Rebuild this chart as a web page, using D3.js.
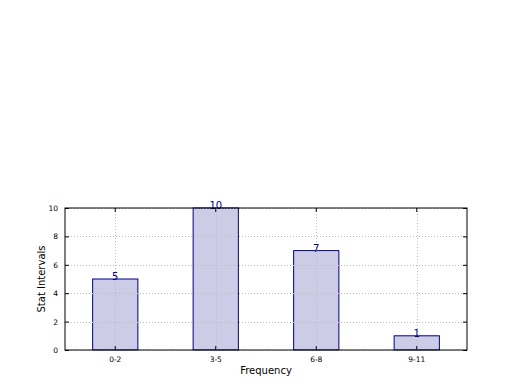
<!DOCTYPE html>
<html lang="en">
<head>
<meta charset="utf-8">
<script src="https://d3js.org/d3.v7.min.js"></script>
<style>
  body { margin: 0; background: #fff; }
  text { font-family: "DejaVu Sans", sans-serif; }
</style>
</head>
<body>
<script>
var categories = ["0-2", "3-5", "6-8", "9-11"];
var counts = [5, 10, 7, 1];
var yTicks = [0, 2, 4, 6, 8, 10];

var width = 520, height = 390;
var margin = {left: 65, right: 53, top: 208, bottom: 40};
var x0 = margin.left, x1 = width - margin.right;
var y0 = height - margin.bottom, y1 = margin.top;

var svg = d3.select("body").append("svg")
    .attr("width", width)
    .attr("height", height);

var x = d3.scaleBand()
    .domain(categories)
    .range([x0, x1])
    .paddingInner(0.55)
    .paddingOuter(0.275);
var y = d3.scaleLinear().domain([0, 10]).range([y0, y1]);

function cx(d) { return x(d) + x.bandwidth() / 2; }

// bars
svg.selectAll(".bar").data(categories).enter().append("rect")
    .attr("x", function(d) { return x(d); })
    .attr("y", function(d, i) { return y(counts[i]); })
    .attr("width", x.bandwidth())
    .attr("height", function(d, i) { return y0 - y(counts[i]); })
    .attr("fill", "#ccccE6")
    .attr("stroke", "#000080")
    .attr("stroke-width", 1);

// grid (drawn over the bars, as in the original)
var grid = svg.append("g").attr("stroke", "#bdbdbd").attr("stroke-dasharray", "1,2").attr("shape-rendering", "crispEdges");
grid.selectAll(".gx").data(categories).enter().append("line")
    .attr("x1", function(d) { return Math.round(cx(d)) + 0.5; })
    .attr("x2", function(d) { return Math.round(cx(d)) + 0.5; })
    .attr("y1", y0).attr("y2", y1);
grid.selectAll(".gy").data(yTicks).enter().append("line")
    .attr("x1", x0).attr("x2", x1)
    .attr("y1", function(d) { return Math.round(y(d)) + 0.5; })
    .attr("y2", function(d) { return Math.round(y(d)) + 0.5; });

// value labels
svg.selectAll(".val").data(categories).enter().append("text")
    .attr("x", cx)
    .attr("y", function(d, i) { return y(counts[i]) + 1; })
    .attr("text-anchor", "middle")
    .attr("font-size", 10)
    .attr("fill", "#000080")
    .text(function(d, i) { return counts[i]; });

// frame
svg.append("rect")
    .attr("x", x0).attr("y", y1)
    .attr("width", x1 - x0).attr("height", y0 - y1)
    .attr("fill", "none").attr("stroke", "#000").attr("stroke-width", 1);

// axes with inward ticks
var axB = d3.axisBottom(x).tickSize(-4).tickPadding(7);
svg.append("g").attr("transform", "translate(0," + y0 + ")").call(axB)
    .call(function(g) { g.select(".domain").remove(); g.selectAll("text").attr("font-size", 7.5).attr("fill", "#000"); });
var axT = d3.axisTop(x).tickSize(-4).tickFormat("");
svg.append("g").attr("transform", "translate(0," + y1 + ")").call(axT)
    .call(function(g) { g.select(".domain").remove(); });
var axL = d3.axisLeft(y).tickValues(yTicks).tickSize(-4).tickPadding(7);
svg.append("g").attr("transform", "translate(" + x0 + ",0)").call(axL)
    .call(function(g) { g.select(".domain").remove(); g.selectAll("text").attr("font-size", 7.5).attr("fill", "#000"); });
var axR = d3.axisRight(y).tickValues(yTicks).tickSize(-4).tickFormat("");
svg.append("g").attr("transform", "translate(" + x1 + ",0)").call(axR)
    .call(function(g) { g.select(".domain").remove(); });

// axis labels
svg.append("text")
    .attr("x", (x0 + x1) / 2).attr("y", y0 + 24)
    .attr("text-anchor", "middle").attr("font-size", 10)
    .text("Frequency");
svg.append("text")
    .attr("transform", "translate(" + (x0 - 20) + "," + ((y0 + y1) / 2) + ") rotate(-90)")
    .attr("text-anchor", "middle").attr("font-size", 10)
    .text("Stat Intervals");
</script>
</body>
</html>
